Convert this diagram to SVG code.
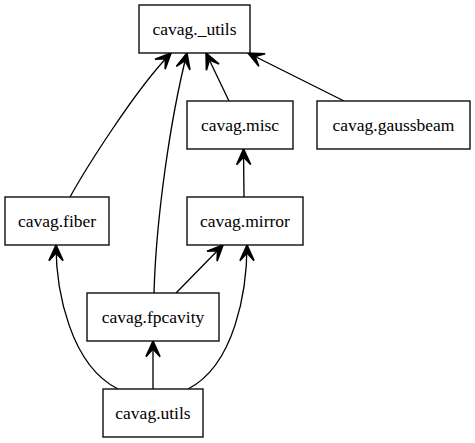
<svg xmlns="http://www.w3.org/2000/svg" width="475" height="443" viewBox="0 0 475 443">
<style>
.node rect{fill:#fff;stroke:#000;stroke-width:1.33}
.node text{font-size:17.5px;text-anchor:middle;fill:#000}
.edge path{fill:none;stroke:#000;stroke-width:1.33;marker-end:url(#vee)}
</style>
<defs>
<marker id="vee" markerUnits="userSpaceOnUse" markerWidth="20" markerHeight="20" viewBox="-15 -8 17 16" refX="0" refY="0" orient="auto">
<path d="M0,0 L-13.3,-6 L-6.7,0 L-13.3,6 Z" fill="#000" stroke="#000" stroke-width="1.33"/>
</marker>
</defs>
<rect width="475" height="443" fill="#fff"/>
<g id="edges" class="edge">
<path d="M70,197 C85,170 135,90 171,53"/>
<path d="M154,293 C156,220 170,120 187,53"/>
<path d="M229,101 L206,53"/>
<path d="M344,101 L248,53"/>
<path d="M244,197 L243.5,149"/>
<path d="M176,293 L223,245"/>
<path d="M118,389 C70,365 56,290 56,245"/>
<path d="M153,389 L153,341"/>
<path d="M188,389 C235,365 247,290 247,245"/>
</g>
<g font-family="'Liberation Serif', 'Times New Roman', serif">
<g id="n_utils_private" class="node"><rect x="139" y="5" width="111" height="48"/><text x="194.5" y="35">cavag._utils</text></g>
<g id="n_misc" class="node"><rect x="187" y="101" width="106" height="48"/><text x="240" y="131">cavag.misc</text></g>
<g id="n_gaussbeam" class="node"><rect x="317" y="101" width="153" height="48"/><text x="393.5" y="131">cavag.gaussbeam</text></g>
<g id="n_fiber" class="node"><rect x="5" y="197" width="104" height="48"/><text x="57" y="227">cavag.fiber</text></g>
<g id="n_mirror" class="node"><rect x="187" y="197" width="116" height="48"/><text x="245" y="227">cavag.mirror</text></g>
<g id="n_fpcavity" class="node"><rect x="87" y="293" width="132" height="48"/><text x="153" y="323">cavag.fpcavity</text></g>
<g id="n_utils" class="node"><rect x="103" y="389" width="100" height="48"/><text x="153" y="419">cavag.utils</text></g>
</g>
</svg>
